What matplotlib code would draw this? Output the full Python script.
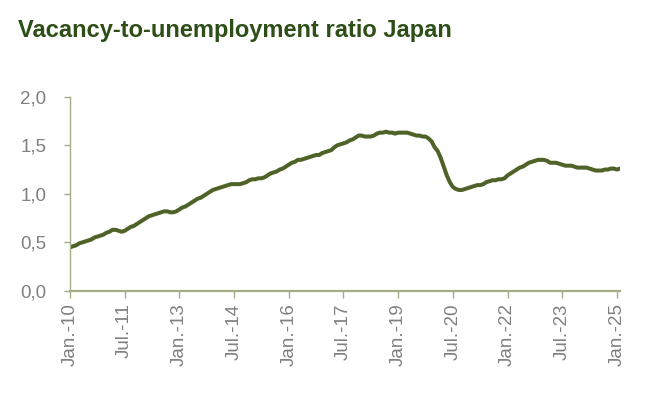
import matplotlib
matplotlib.use("Agg")
import matplotlib.pyplot as plt
import pandas as pd

# Monthly vacancy-to-unemployment ratio, Jan 2010 - Feb 2025
ratio_2010 = [0.45, 0.46, 0.47, 0.49, 0.50, 0.51, 0.52, 0.53, 0.55, 0.56, 0.57, 0.58]
ratio_2011 = [0.60, 0.61, 0.63, 0.63, 0.62, 0.61, 0.62, 0.64, 0.66, 0.67, 0.69, 0.71]
ratio_2012 = [0.73, 0.75, 0.77, 0.78, 0.79, 0.80, 0.81, 0.82, 0.82, 0.81, 0.81, 0.82]
ratio_2013 = [0.84, 0.86, 0.87, 0.89, 0.91, 0.93, 0.95, 0.96, 0.98, 1.00, 1.02, 1.04]
ratio_2014 = [1.05, 1.06, 1.07, 1.08, 1.09, 1.10, 1.10, 1.10, 1.10, 1.11, 1.12, 1.14]
ratio_2015 = [1.15, 1.15, 1.16, 1.16, 1.17, 1.19, 1.21, 1.22, 1.23, 1.25, 1.26, 1.28]
ratio_2016 = [1.30, 1.32, 1.33, 1.35, 1.35, 1.36, 1.37, 1.38, 1.39, 1.40, 1.40, 1.42]
ratio_2017 = [1.43, 1.44, 1.45, 1.48, 1.50, 1.51, 1.52, 1.53, 1.55, 1.56, 1.58, 1.60]
ratio_2018 = [1.60, 1.59, 1.59, 1.59, 1.60, 1.62, 1.63, 1.63, 1.64, 1.63, 1.63, 1.62]
ratio_2019 = [1.63, 1.63, 1.63, 1.63, 1.62, 1.61, 1.60, 1.60, 1.59, 1.59, 1.57, 1.54]
ratio_2020 = [1.48, 1.44, 1.37, 1.28, 1.19, 1.12, 1.07, 1.05, 1.04, 1.04, 1.05, 1.06]
ratio_2021 = [1.07, 1.08, 1.09, 1.09, 1.10, 1.12, 1.13, 1.14, 1.14, 1.15, 1.15, 1.16]
ratio_2022 = [1.19, 1.21, 1.23, 1.25, 1.27, 1.28, 1.30, 1.32, 1.33, 1.34, 1.35, 1.35]
ratio_2023 = [1.35, 1.34, 1.32, 1.32, 1.32, 1.31, 1.30, 1.29, 1.29, 1.29, 1.28, 1.27]
ratio_2024 = [1.27, 1.27, 1.27, 1.26, 1.25, 1.24, 1.24, 1.24, 1.25, 1.25, 1.26, 1.26]
ratio_2025 = [1.25, 1.26]

ratio = (ratio_2010 + ratio_2011 + ratio_2012 + ratio_2013 + ratio_2014 + ratio_2015
         + ratio_2016 + ratio_2017 + ratio_2018 + ratio_2019 + ratio_2020 + ratio_2021
         + ratio_2022 + ratio_2023 + ratio_2024 + ratio_2025)
months = pd.date_range("2010-01-01", periods=len(ratio), freq="MS")

y_ticks = [0.0, 0.5, 1.0, 1.5, 2.0]
tick_every = 18  # months between x labels

line_color = "#4F6228"
axis_color = "#A3AD86"
label_color = "#808080"

plt.rcParams["font.family"] = ["Liberation Sans", "DejaVu Sans"]

fig = plt.figure(figsize=(6.54, 3.99), dpi=100)
ax = fig.add_axes([70 / 654, 108 / 399, 550 / 654, 194.3 / 399])

x = list(range(len(ratio)))
ax.plot(x, ratio, color=line_color, lw=2.9, solid_capstyle="round", solid_joinstyle="round")

ax.set_xlim(0, len(ratio) - 1)
ax.set_ylim(0, 2.0)

ax.set_yticks(y_ticks)
ax.set_yticklabels([f"{v:.1f}".replace(".", ",") for v in y_ticks])

xt = list(range(0, len(ratio), tick_every))
ax.set_xticks(xt)
ax.set_xticklabels([f"{months[i].strftime('%b')}.-{months[i].strftime('%y')}" for i in xt],
                   rotation=90)

for side in ["top", "right"]:
    ax.spines[side].set_visible(False)
ax.spines["left"].set_color(axis_color)
ax.spines["bottom"].set_color(axis_color)
ax.spines["left"].set_linewidth(1.0)
ax.spines["bottom"].set_linewidth(1.6)

ax.tick_params(axis="both", colors=axis_color, labelcolor=label_color, labelsize=13.5,
               direction="out")
ax.tick_params(axis="y", length=4, width=1.0, pad=13)
ax.tick_params(axis="x", length=5, width=1.0, pad=4)

fig.text(18 / 654, 1 - 30 / 399, "Vacancy-to-unemployment ratio Japan",
         fontsize=17, fontweight="bold", color="#2E4E17", va="center", ha="left")

fig.savefig("out.png", dpi=100, facecolor="white")
